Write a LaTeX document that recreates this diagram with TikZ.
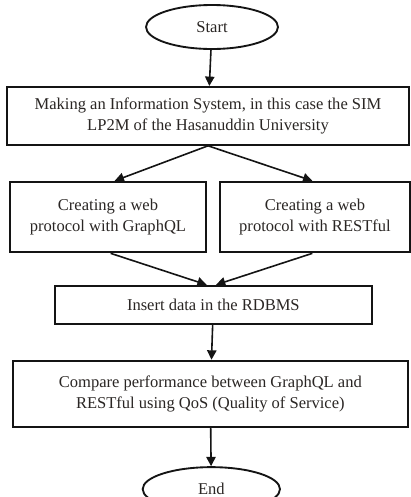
\documentclass[tikz,border=0pt]{standalone}
\usepackage{fontspec}
\setmainfont{Liberation Serif}
\usepackage{xcolor}
\usepackage{tikz}
\usetikzlibrary{arrows.meta,positioning,shapes.geometric,calc}
\definecolor{inkline}{HTML}{141414}
\definecolor{inktext}{HTML}{2A2624}
\tikzset{
  procbox/.style={
    draw=inkline, line width=1.4pt, fill=white,
    font=\fontsize{12.4}{16}\selectfont, text=inktext, align=center,
    inner sep=3pt,
  },
  termnode/.style={
    ellipse, draw=inkline, line width=1.4pt, fill=white,
    font=\fontsize{12.4}{14}\selectfont, text=inktext,
    inner sep=0pt, minimum width=99pt, minimum height=33pt,
  },
  arrow/.style={-{Triangle[length=7pt,width=7pt]}, line width=1.2pt, color=inkline},
}

\begin{document}
\begin{tikzpicture}
  \useasboundingbox (0,0) rectangle (308.25pt,-372.75pt);

  \node[termnode] (start) at (159pt,-20.25pt) {Start};

  \node[procbox, minimum width=301.5pt, minimum height=43.5pt,
        below=27pt of start, xshift=-3pt] (making)
    {Making an Information System, in this case the SIM\\LP2M of the Hasanuddin University};

  \node[procbox, minimum width=147pt, minimum height=53pt,
        below right=26.25pt and 2.25pt of making.south west] (graphql)
    {Creating a web\\protocol with GraphQL};

  \node[procbox, minimum width=142.5pt, minimum height=53pt,
        below left=26.25pt and -0.75pt of making.south east] (restful)
    {Creating a web\\protocol with RESTful};

  \node[procbox, minimum width=238pt, minimum height=28.5pt,
        below=104.25pt of making, xshift=4pt] (insert)
    {Insert data in the RDBMS};

  \node[procbox, minimum width=296pt, minimum height=50pt,
        below=26.25pt of insert, xshift=-2.25pt] (compare)
    {Compare performance between GraphQL and\\RESTful using QoS (Quality of Service)};

  \node[termnode, minimum width=103pt, below=28.5pt of compare, xshift=0.75pt] (end) {End};

  \draw[arrow] (start) -- (making);
  \draw[arrow] (making.south) -- ([xshift=5pt]graphql.north);
  \draw[arrow] (making.south) -- ([xshift=-2pt]restful.north);
  \draw[arrow] ([xshift=2pt]graphql.south) -- ([xshift=-5pt]insert.north);
  \draw[arrow] ([xshift=-2pt]restful.south) -- ([xshift=2pt]insert.north);
  \draw[arrow] (insert) -- (compare);
  \draw[arrow] (compare) -- (end);

\end{tikzpicture}
\end{document}
